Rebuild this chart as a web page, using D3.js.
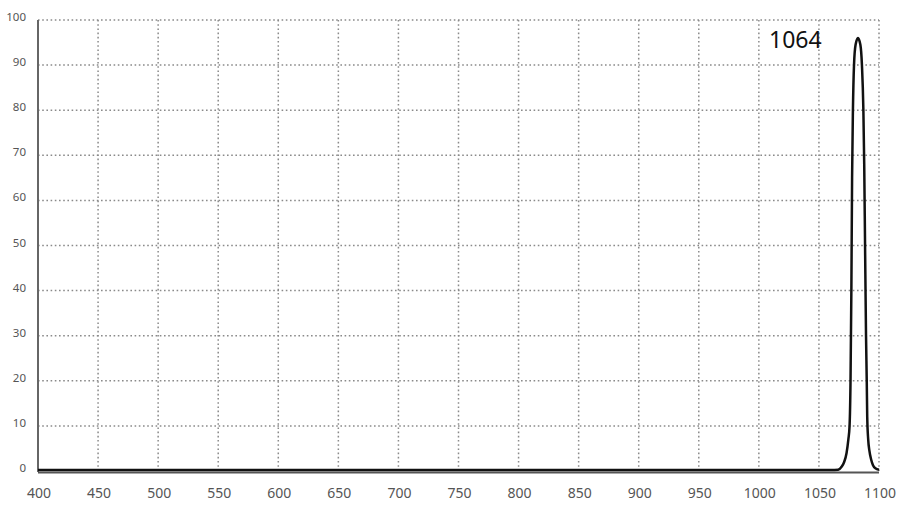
<!DOCTYPE html>
<html>
<head>
<meta charset="utf-8">
<script src="https://cdn.jsdelivr.net/npm/d3@7"></script>
<style>
  body { margin: 0; background: #fff; }
  svg { display: block; }
</style>
</head>
<body>
<svg width="900" height="514"></svg>
<script>
// transmission curve
var wavelengths = [400, 1060, 1066, 1069, 1071, 1073, 1074.5, 1075.5, 1076.3, 1077, 1077.6, 1078.3, 1079.2, 1080.5, 1082.5, 1084.5, 1085.8, 1087, 1087.7, 1088.4, 1089.2, 1089.8, 1090.2, 1091, 1092, 1093.5, 1095, 1097, 1100];
var transmission = [0.2, 0.2, 0.3, 1, 2, 4, 7, 10, 20, 40, 65, 80, 90, 94.5, 96, 94.5, 90, 80, 68, 50, 30, 20, 12, 7, 4.5, 2.5, 1.3, 0.6, 0.3];
var xTicks = [400, 450, 500, 550, 600, 650, 700, 750, 800, 850, 900, 950, 1000, 1050, 1100];
var yTicks = [0, 10, 20, 30, 40, 50, 60, 70, 80, 90, 100];
var peakLabel = "1064";

var svg = d3.select('svg');
var x = d3.scaleLinear().domain([400, 1100]).range([38, 879]);
var y = d3.scaleLinear().domain([0, 100]).range([471, 20]);

// dotted grid
svg.append('g').selectAll('line')
    .data(xTicks.slice(1))
    .enter().append('line')
    .attr('x1', function(d){ return x(d); })
    .attr('x2', function(d){ return x(d); })
    .attr('y1', y(100))
    .attr('y2', y(0))
    .attr('stroke', '#8a8a8a')
    .attr('stroke-width', 1.5)
    .attr('stroke-dasharray', '1.6,2.6');

svg.append('g').selectAll('line')
    .data(yTicks.slice(1))
    .enter().append('line')
    .attr('x1', x(400))
    .attr('x2', x(1100))
    .attr('y1', function(d){ return y(d); })
    .attr('y2', function(d){ return y(d); })
    .attr('stroke', '#8a8a8a')
    .attr('stroke-width', 1.5)
    .attr('stroke-dasharray', '1.6,2.6');

// axes lines
svg.append('line')
    .attr('x1', x(400)).attr('x2', x(400))
    .attr('y1', y(100)).attr('y2', y(0) + 1)
    .attr('stroke', '#666').attr('stroke-width', 2);
svg.append('line')
    .attr('x1', x(400)).attr('x2', x(1100))
    .attr('y1', y(0) + 1.5).attr('y2', y(0) + 1.5)
    .attr('stroke', '#555').attr('stroke-width', 2);

// tick labels
svg.append('g').selectAll('text')
    .data(yTicks)
    .enter().append('text')
    .attr('x', 26)
    .attr('y', function(d){ return y(d) - 3; })
    .attr('dy', '0.35em')
    .attr('text-anchor', 'end')
    .attr('font-family', 'Noto Sans, sans-serif')
    .attr('font-size', 11.5)
    .attr('fill', '#555')
    .text(function(d){ return d; });

svg.append('g').selectAll('text')
    .data(xTicks)
    .enter().append('text')
    .attr('x', function(d){ return x(d) + 1; })
    .attr('y', 498)
    .attr('text-anchor', 'middle')
    .attr('font-family', 'Noto Sans, sans-serif')
    .attr('font-size', 14)
    .attr('fill', '#555')
    .text(function(d){ return d; });

// curve
var pts = wavelengths.map(function(w, i){ return [w, transmission[i]]; });
var line = d3.line()
    .x(function(d){ return x(d[0]); })
    .y(function(d){ return y(d[1]); })
    .curve(d3.curveMonotoneX);

svg.append('path')
    .datum(pts)
    .attr('d', line)
    .attr('fill', 'none')
    .attr('stroke', '#111')
    .attr('stroke-width', 2.5)
    .attr('stroke-linejoin', 'round');

svg.append('text')
    .attr('x', 769)
    .attr('y', 48)
    .attr('font-family', 'Noto Sans, sans-serif')
    .attr('font-size', 23)
    .attr('fill', '#111')
    .text(peakLabel);
</script>
</body>
</html>
